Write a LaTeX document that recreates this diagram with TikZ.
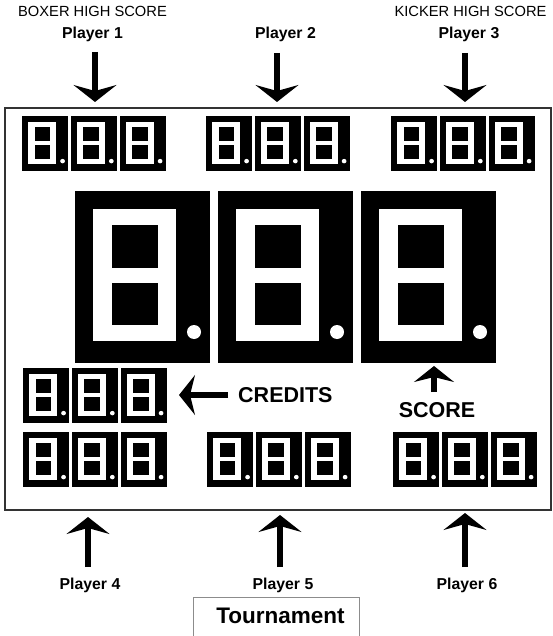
\documentclass[tikz,border=0pt]{standalone}
\usepackage{fontspec}
\setmainfont{Liberation Sans}
\usetikzlibrary{arrows.meta,positioning,calc}
\tikzset{ARROW/.style={line width=6.5pt, -{Stealth[length=17pt,width=43pt,inset=6pt]}}}
\tikzset{SMALLARROW/.style={line width=6.5pt, -{Stealth[length=16pt,width=40pt,inset=5pt]}}}
\tikzset{TITLE/.style={font=\fontsize{14.7}{17}\selectfont, inner sep=0pt, anchor=base}}
\tikzset{PLAYER/.style={font=\fontsize{15.8}{18}\selectfont\bfseries, inner sep=0pt, anchor=base}}
\tikzset{BIGLABEL/.style={font=\fontsize{21.5}{24}\selectfont\bfseries, inner sep=0pt, anchor=base}}
\tikzset{SMALL/.style={xscale=0.341, yscale=0.32}}
\tikzset{DIGIT/.pic={
    \fill[black] (0,0) rectangle (135,172);
    \fill[white] (18,18) rectangle (101,150);
    \fill[black] (37,34) rectangle (83,77);
    \fill[black] (37,92) rectangle (83,134);
    \fill[white] (119,141) circle[radius=7];
}}
\tikzset{DISPLAY/.pic={
    \foreach \dx in {0,143,286}
        \pic[transform shape] at (\dx,0) {DIGIT};
}}

\begin{document}
\begin{tikzpicture}[x=1pt, y=-1pt]
    \useasboundingbox (0,0) rectangle (553,636);

    % backbox frame
    \draw[line width=1.5pt, black!80] (5,108) rectangle (551,510);

    % high score titles and players
    \node[TITLE] (n_boxer) at (92.5,17) {BOXER HIGH SCORE};
    \node[TITLE] (n_kicker) at (470.5,17) {KICKER HIGH SCORE};
    \node[PLAYER] (n_player1) at (92.5,39) {Player 1};
    \node[PLAYER] (n_player2) at (285.5,39) {Player 2};
    \node[PLAYER] (n_player3) at (469,39) {Player 3};
    \node[PLAYER] (n_player4) at (90,589.5) {Player 4};
    \node[PLAYER] (n_player5) at (283,589.5) {Player 5};
    \node[PLAYER] (n_player6) at (467,589.5) {Player 6};

    % displays
    \pic[SMALL] at (22,116) {DISPLAY};
    \pic[SMALL] at (206,116) {DISPLAY};
    \pic[SMALL] at (391,116) {DISPLAY};
    \pic at (75,191) {DISPLAY};
    \pic[SMALL] at (23,368) {DISPLAY};
    \pic[SMALL] at (23,432) {DISPLAY};
    \pic[SMALL] at (207,432) {DISPLAY};
    \pic[SMALL] at (393,432) {DISPLAY};

    % player arrows
    \coordinate (p1_start) at (95,52);
    \coordinate (p1_end) at (95,102);
    \draw[ARROW] (p1_start) -- (p1_end);

    \coordinate (p2_start) at (277,53);
    \coordinate (p2_end) at (277,102);
    \draw[ARROW] (p2_start) -- (p2_end);

    \coordinate (p3_start) at (465,53);
    \coordinate (p3_end) at (465,102);
    \draw[ARROW] (p3_start) -- (p3_end);

    \coordinate (p4_start) at (88,567);
    \coordinate (p4_end) at (88,517);
    \draw[ARROW] (p4_start) -- (p4_end);

    \coordinate (p5_start) at (280,567);
    \coordinate (p5_end) at (280,515);
    \draw[ARROW] (p5_start) -- (p5_end);

    \coordinate (p6_start) at (465,567);
    \coordinate (p6_end) at (465,513);
    \draw[ARROW] (p6_start) -- (p6_end);

    % credits and score
    \node[BIGLABEL, anchor=base west] (n_credits) at (238,402) {CREDITS};
    \coordinate (credits_start) at (228,395);
    \coordinate (credits_end) at (179,395);
    \draw[SMALLARROW] (credits_start) -- (credits_end);

    \node[BIGLABEL] (n_score) at (437,417) {SCORE};
    \coordinate (score_start) at (434,392);
    \coordinate (score_end) at (434,366);
    \draw[SMALLARROW] (score_start) -- (score_end);

    % tournament
    \draw[black!45, line width=1pt] (193,597) rectangle (359,640);
    \node[BIGLABEL, font=\fontsize{22.5}{26}\selectfont\bfseries] (n_tournament) at (280.5,623) {Tournament};
\end{tikzpicture}
\end{document}
